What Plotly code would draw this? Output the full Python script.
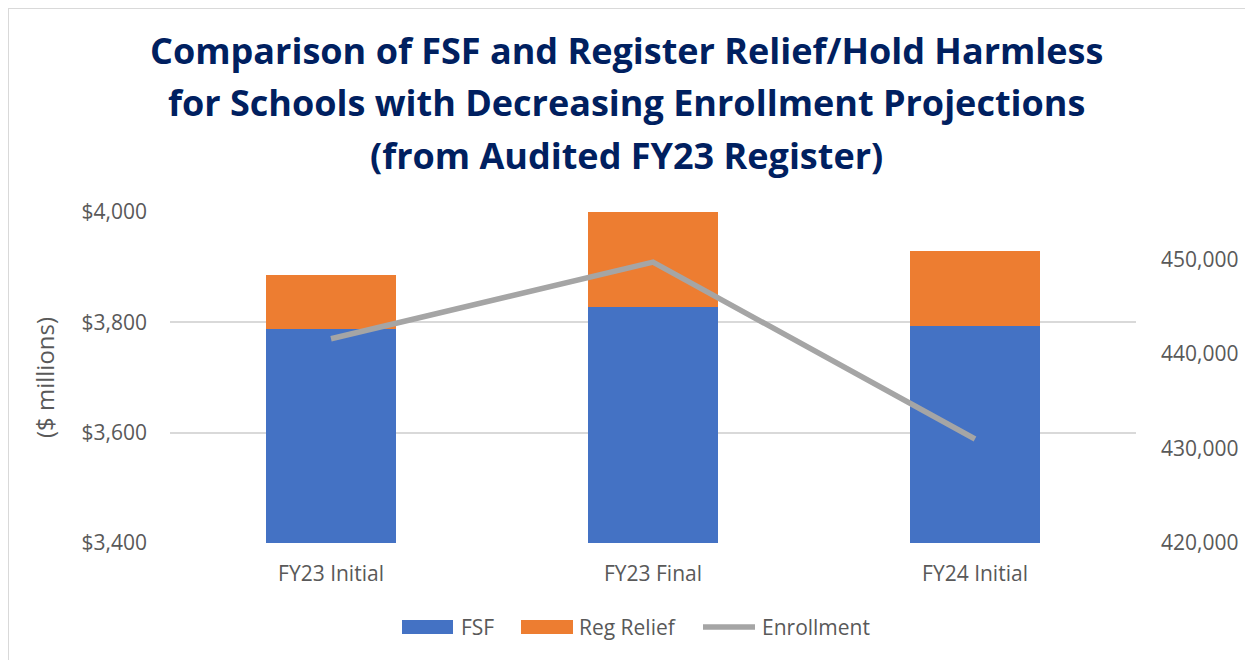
import plotly.graph_objects as go

categories = ["FY23 Initial", "FY23 Final", "FY24 Initial"]
fsf = [3788, 3828, 3793]
reg_relief = [98, 172, 137]
enrollment = [441600, 449700, 431000]
left_ticks = [3400, 3600, 3800, 4000]
left_tick_labels = ["$3,400", "$3,600", "$3,800", "$4,000"]
right_ticks = [420000, 430000, 440000, 450000]
right_tick_labels = ["420,000", "430,000", "440,000", "450,000"]
title_lines = ["Comparison of FSF and Register Relief/Hold Harmless",
               "for Schools with Decreasing Enrollment Projections",
               "(from Audited FY23 Register)"]
series_names = ["FSF", "Reg Relief", "Enrollment"]
series_colors = ["#4472C4", "#ED7D31", "#A5A5A5"]

FONT = "Open Sans"
GRAY = "#595959"

# figure is placed at page offset (8, 8)
W, H = 1245, 652
L, R, T, B = 162, 117, 204, 117
pw, ph = W - L - R, H - T - B


def px_x(x):
    return (x - L) / pw


def px_y(y):
    return (H - B - y) / ph


fig = go.Figure()
fig.add_trace(go.Bar(x=categories, y=fsf, name=series_names[0],
                     marker=dict(color=series_colors[0], line=dict(width=0))))
fig.add_trace(go.Bar(x=categories, y=reg_relief, name=series_names[1],
                     marker=dict(color=series_colors[1], line=dict(width=0))))
fig.add_trace(go.Scatter(x=categories, y=enrollment, name=series_names[2], mode="lines",
                         line=dict(color=series_colors[2], width=5.5), yaxis="y2"))

fig.update_layout(
    width=W, height=H,
    margin=dict(l=L, r=R, t=T, b=B),
    paper_bgcolor="white", plot_bgcolor="white",
    barmode="stack", bargap=0.596,
    showlegend=False,
    font=dict(family=FONT, color=GRAY, size=21),
    xaxis=dict(showgrid=False, showline=False, ticks="", ticklabelstandoff=16,
               tickfont=dict(size=21, color=GRAY)),
    yaxis=dict(range=[3400, 4000], tickvals=left_ticks, ticktext=left_tick_labels,
               showgrid=True, gridcolor="#D9D9D9", gridwidth=1.5, zeroline=False,
               tickfont=dict(size=21, color=GRAY), ticks="", ticklabelstandoff=22,
               title=dict(text="($ millions)", font=dict(size=24, color=GRAY), standoff=20)),
    yaxis2=dict(range=[420000, 455000], tickvals=right_ticks, ticktext=right_tick_labels,
                overlaying="y", side="right", showgrid=False, zeroline=False, ticks="",
                ticklabelstandoff=24, tickfont=dict(size=21, color=GRAY)),
)

# title (three lines, as annotations for line spacing control)
for line, yc in zip(title_lines, [42, 94, 147]):
    fig.add_annotation(text=line, xref="paper", yref="paper", x=px_x(W / 2 - 4), y=px_y(yc),
                       xanchor="center", yanchor="middle", showarrow=False,
                       font=dict(family=FONT, size=36, color="#002060", weight="bold"))

# legend (manual)
ly = 619
fig.add_shape(type="rect", xref="paper", yref="paper", x0=px_x(394), x1=px_x(445),
              y0=px_y(626), y1=px_y(612), fillcolor=series_colors[0], line=dict(width=0))
fig.add_shape(type="rect", xref="paper", yref="paper", x0=px_x(513), x1=px_x(565),
              y0=px_y(626), y1=px_y(612), fillcolor=series_colors[1], line=dict(width=0))
fig.add_shape(type="line", xref="paper", yref="paper", x0=px_x(695), x1=px_x(747),
              y0=px_y(ly), y1=px_y(ly), line=dict(color=series_colors[2], width=5.5))
for name, xs in zip(series_names, [451, 569, 752]):
    fig.add_annotation(text=name, xref="paper", yref="paper", x=px_x(xs), y=px_y(ly),
                       xanchor="left", yanchor="middle", showarrow=False,
                       font=dict(family=FONT, size=21, color=GRAY))

# chart border
fig.add_shape(type="rect", xref="paper", yref="paper",
              x0=px_x(0), x1=px_x(1262), y0=px_y(670), y1=px_y(0),
              line=dict(color="#D9D9D9", width=2), fillcolor="rgba(0,0,0,0)", layer="below")

fig.write_html("out.html")
